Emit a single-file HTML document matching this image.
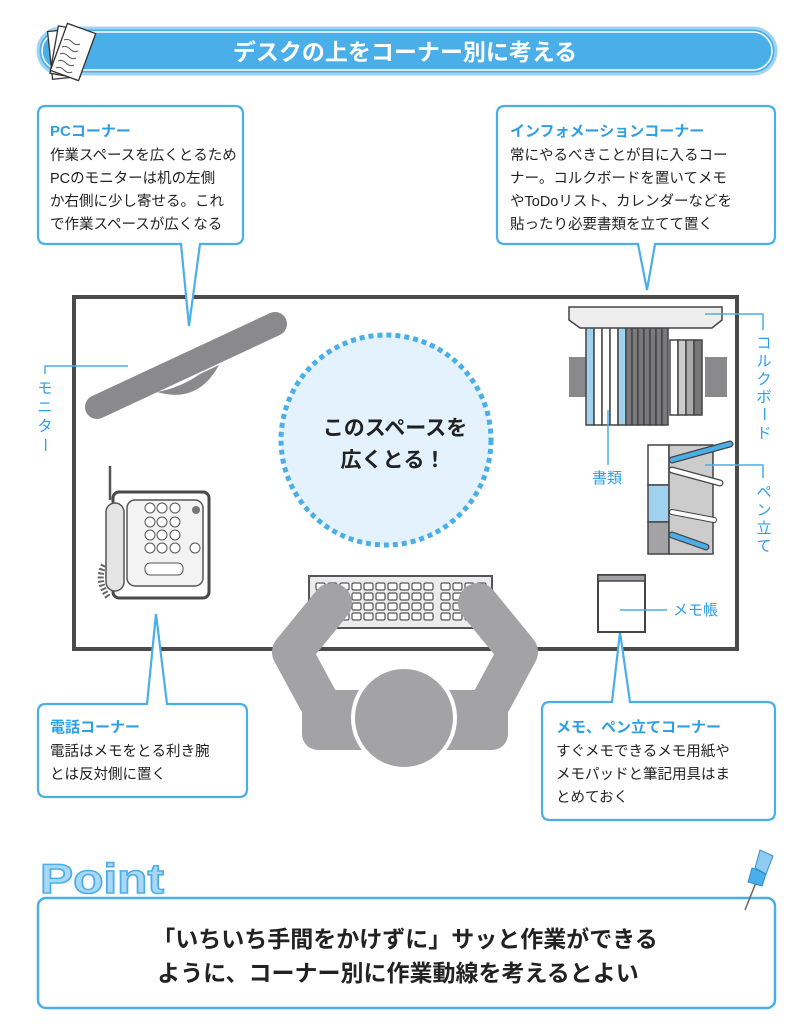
<!DOCTYPE html>
<html><head><meta charset="utf-8"><style>
html,body{margin:0;padding:0;background:#fff;}
svg{display:block;}
text{font-family:"Liberation Sans","Noto Sans CJK JP",sans-serif;}
</style></head><body>
<svg width="804" height="1024" viewBox="0 0 804 1024" xmlns="http://www.w3.org/2000/svg">
<!-- title -->
<rect x="38" y="28" width="738" height="46" rx="23" fill="#4aaee8" stroke="#9fd3f4" stroke-width="3"/>
<rect x="42" y="32" width="730" height="38" rx="19" fill="none" stroke="#ffffff" stroke-width="1.5"/>
<text x="405" y="60" font-size="23" font-weight="bold" fill="#fff" text-anchor="middle">デスクの上をコーナー別に考える</text>
<g stroke="#333" stroke-width="1.3" fill="#fff">
<rect x="50" y="30" width="28" height="48" transform="rotate(-6 64 54)"/>
<rect x="54" y="28" width="28" height="48" transform="rotate(10 68 52)"/>
<rect x="58" y="27" width="30" height="50" transform="rotate(20 73 52)"/>
</g>
<g stroke="#555" stroke-width="1" fill="none">
<path d="M64 40 q4 -2 8 2 t8 2"/><path d="M62 47 q4 -2 8 2 t8 2"/><path d="M60 54 q4 -2 8 2 t8 2"/><path d="M58 61 q4 -2 8 2 t8 2"/><path d="M56 68 q4 -2 8 2 t8 2"/>
</g>

<!-- desk -->
<rect x="74" y="297" width="663" height="352" fill="#fff" stroke="#4a4a4a" stroke-width="4"/>

<!-- PC box -->
<path d="M46 106 H235 q8 0 8 8 V236 q0 8 -8 8 H200 L189 326 L181 244 H46 q-8 0 -8 -8 V114 q0 -8 8 -8 Z" fill="#fff" stroke="#4aaee8" stroke-width="2.2"/>
<text x="50" y="136" font-size="15" font-weight="bold" fill="#2e9fe3">PCコーナー</text>
<g font-size="14.5" fill="#222"><text x="50" y="160">作業スペースを広くとるため</text><text x="50" y="183">PCのモニターは机の左側</text><text x="50" y="206">か右側に少し寄せる。これ</text><text x="50" y="229">で作業スペースが広くなる</text></g>

<!-- Info box -->
<path d="M505 106 H767 q8 0 8 8 V236 q0 8 -8 8 H655 L647 290 L638 244 H505 q-8 0 -8 -8 V114 q0 -8 8 -8 Z" fill="#fff" stroke="#4aaee8" stroke-width="2.2"/>
<text x="510" y="136" font-size="15" font-weight="bold" fill="#2e9fe3">インフォメーションコーナー</text>
<g font-size="14.5" fill="#222"><text x="510" y="160">常にやるべきことが目に入るコー</text><text x="510" y="183">ナー。コルクボードを置いてメモ</text><text x="510" y="206">やToDoリスト、カレンダーなどを</text><text x="510" y="229">貼ったり必要書類を立てて置く</text></g>

<!-- circle -->
<circle cx="386" cy="440" r="105" fill="#e3f2fc" stroke="#4aaee8" stroke-width="5" stroke-dasharray="5 4"/>
<text x="395" y="435" font-size="21" font-weight="bold" fill="#222" text-anchor="middle">このスペースを</text>
<text x="393" y="467" font-size="21" font-weight="bold" fill="#222" text-anchor="middle">広くとる！</text>

<!-- monitor -->
<line x1="97" y1="407" x2="275" y2="324" stroke="#8a8a8c" stroke-width="24" stroke-linecap="round"/>
<path d="M157 392 Q198 404 219 365 L200 374 Q180 388 157 392 Z" fill="#8a8a8c"/>
<path d="M128 366 H45 V374" fill="none" stroke="#4aaee8" stroke-width="1.5"/>
<g font-size="15" fill="#2e9fe3" text-anchor="middle"><text x="45" y="393">モ</text><text x="45" y="412">ニ</text><text x="45" y="431">タ</text><text x="45" y="450" transform="rotate(90 45 445)">ー</text></g>

<!-- phone -->
<line x1="110" y1="466" x2="110" y2="500" stroke="#555" stroke-width="2.5"/>
<rect x="113" y="492" width="96" height="106" rx="6" fill="#fff" stroke="#4a4a4a" stroke-width="3"/>
<rect x="127" y="500" width="76" height="86" rx="8" fill="#f3f3f3" stroke="#555" stroke-width="1.5"/>
<rect x="106" y="503" width="18" height="88" rx="9" fill="#e4e4e4" stroke="#555" stroke-width="1.5"/>
<g fill="#fff" stroke="#555" stroke-width="1"><circle cx="150" cy="508" r="5"/><circle cx="162" cy="508" r="5"/><circle cx="175" cy="508" r="5"/><circle cx="150" cy="522" r="5"/><circle cx="162" cy="522" r="5"/><circle cx="175" cy="522" r="5"/><circle cx="150" cy="535" r="5"/><circle cx="162" cy="535" r="5"/><circle cx="175" cy="535" r="5"/><circle cx="150" cy="548" r="5"/><circle cx="162" cy="548" r="5"/><circle cx="175" cy="548" r="5"/><circle cx="195" cy="548" r="5"/><rect x="145" y="563" width="38" height="12" rx="5"/></g>
<circle cx="196" cy="510" r="4" fill="#777"/>
<path d="M104 565 q-8 15 4 32" fill="none" stroke="#666" stroke-width="6" stroke-dasharray="2 2"/>

<!-- keyboard & person -->
<rect x="309" y="576" width="183" height="52" fill="#ececec" stroke="#555" stroke-width="2"/>
<g fill="#fff" stroke="#555" stroke-width="1.2">
<g id="r"><rect x="316" y="583" width="9" height="7" rx="1.5"/><rect x="328" y="583" width="9" height="7" rx="1.5"/><rect x="340" y="583" width="9" height="7" rx="1.5"/><rect x="352" y="583" width="9" height="7" rx="1.5"/><rect x="364" y="583" width="9" height="7" rx="1.5"/><rect x="376" y="583" width="9" height="7" rx="1.5"/><rect x="388" y="583" width="9" height="7" rx="1.5"/><rect x="400" y="583" width="9" height="7" rx="1.5"/><rect x="412" y="583" width="9" height="7" rx="1.5"/><rect x="424" y="583" width="9" height="7" rx="1.5"/><rect x="441" y="583" width="9" height="7" rx="1.5"/><rect x="453" y="583" width="9" height="7" rx="1.5"/><rect x="465" y="583" width="9" height="7" rx="1.5"/><rect x="477" y="583" width="9" height="7" rx="1.5"/></g>
<use href="#r" y="10"/><use href="#r" y="20"/><use href="#r" y="30"/>
</g>
<line x1="74" y1="649" x2="737" y2="649" stroke="#4a4a4a" stroke-width="4"/>
<g stroke="#a3a3a5" stroke-width="40" stroke-linecap="round" stroke-linejoin="round" fill="none">
<polyline points="332,603 292,652 318,700"/>
<polyline points="478,603 518,652 492,700"/>
</g>
<rect x="302" y="690" width="206" height="60" rx="16" fill="#a3a3a5"/>
<circle cx="404" cy="718" r="51" fill="#a3a3a5" stroke="#fff" stroke-width="4"/>

<!-- phone box -->
<path d="M46 704 H147 L156 614 L167 704 H239 q8 0 8 8 V789 q0 8 -8 8 H46 q-8 0 -8 -8 V712 q0 -8 8 -8 Z" fill="#fff" stroke="#4aaee8" stroke-width="2.2"/>
<text x="50" y="732" font-size="15" font-weight="bold" fill="#2e9fe3">電話コーナー</text>
<g font-size="14.5" fill="#222"><text x="50" y="756">電話はメモをとる利き腕</text><text x="50" y="779">とは反対側に置く</text></g>

<!-- memo box -->
<path d="M550 702 H612 L620 632 L630 702 H767 q8 0 8 8 V812 q0 8 -8 8 H550 q-8 0 -8 -8 V710 q0 -8 8 -8 Z" fill="#fff" stroke="#4aaee8" stroke-width="2.2"/>
<text x="556" y="732" font-size="15" font-weight="bold" fill="#2e9fe3">メモ、ペン立てコーナー</text>
<g font-size="14.5" fill="#222"><text x="556" y="756">すぐメモできるメモ用紙や</text><text x="556" y="779">メモパッドと筆記用具はま</text><text x="556" y="802">とめておく</text></g>

<!-- cork board & docs -->
<rect x="569" y="357" width="22" height="40" fill="#8a8a8c"/>
<rect x="705" y="357" width="22" height="40" fill="#8a8a8c"/>
<g stroke="#444" stroke-width="1.5">
<rect x="586" y="327" width="8" height="98" fill="#a0d2f0"/><rect x="594" y="327" width="8" height="98" fill="#fff"/><rect x="602" y="327" width="8" height="98" fill="#fff"/><rect x="610" y="327" width="8" height="98" fill="#fff"/><rect x="618" y="327" width="8" height="98" fill="#a0d2f0"/>
<rect x="626" y="327" width="6" height="98" fill="#7a7a7c"/><rect x="632" y="327" width="6" height="98" fill="#7a7a7c"/><rect x="638" y="327" width="6" height="98" fill="#7a7a7c"/><rect x="644" y="327" width="6" height="98" fill="#7a7a7c"/><rect x="650" y="327" width="6" height="98" fill="#7a7a7c"/><rect x="656" y="327" width="6" height="98" fill="#7a7a7c"/><rect x="662" y="327" width="6" height="98" fill="#7a7a7c"/>
<rect x="670" y="340" width="8" height="75" fill="#fff"/><rect x="678" y="340" width="8" height="75" fill="#ccc"/><rect x="686" y="340" width="8" height="75" fill="#aaa"/><rect x="694" y="340" width="8" height="75" fill="#777"/>
</g>
<path d="M569 307 H722 V320 L712 328 H580 L569 320 Z" fill="#eee" stroke="#444" stroke-width="1.5"/>
<path d="M705 314 H763 V330" fill="none" stroke="#4aaee8" stroke-width="1.5"/>
<g font-size="15" fill="#2e9fe3" text-anchor="middle"><text x="764" y="348">コ</text><text x="764" y="366">ル</text><text x="764" y="384">ク</text><text x="764" y="402">ボ</text><text x="764" y="419" transform="rotate(90 764 414)">ー</text><text x="764" y="438">ド</text></g>
<line x1="608" y1="410" x2="608" y2="465" stroke="#4aaee8" stroke-width="1.5"/>
<text x="607" y="483" font-size="15" fill="#2e9fe3" text-anchor="middle">書類</text>

<!-- pen stand -->
<g stroke="#444" stroke-width="1.5">
<rect x="648" y="445" width="21" height="40" fill="#fff"/><rect x="648" y="485" width="21" height="37" fill="#a0d2f0"/><rect x="648" y="522" width="21" height="32" fill="#a3a3a5"/>
<rect x="669" y="445" width="44" height="109" fill="#ccc"/>
</g>
<g stroke-linecap="round">
<line x1="672" y1="460" x2="730" y2="444" stroke="#444" stroke-width="7"/><line x1="672" y1="460" x2="730" y2="444" stroke="#4aaee8" stroke-width="4.5"/>
<line x1="672" y1="470" x2="720" y2="483" stroke="#444" stroke-width="7"/><line x1="672" y1="470" x2="720" y2="483" stroke="#fff" stroke-width="4.5"/>
<line x1="672" y1="512" x2="714" y2="520" stroke="#444" stroke-width="6"/><line x1="672" y1="512" x2="714" y2="520" stroke="#fff" stroke-width="4"/>
<line x1="672" y1="535" x2="706" y2="547" stroke="#444" stroke-width="7"/><line x1="672" y1="535" x2="706" y2="547" stroke="#4aaee8" stroke-width="4.5"/>
</g>
<path d="M705 465 H763 V478" fill="none" stroke="#4aaee8" stroke-width="1.5"/>
<g font-size="15" fill="#2e9fe3" text-anchor="middle"><text x="764" y="497">ペ</text><text x="764" y="515">ン</text><text x="764" y="533">立</text><text x="764" y="551">て</text></g>

<!-- memo pad -->
<rect x="598" y="575" width="47" height="57" fill="#fff" stroke="#444" stroke-width="2"/>
<rect x="598" y="575" width="47" height="6" fill="#a3a3a5" stroke="#444" stroke-width="1.5"/>
<line x1="620" y1="610" x2="667" y2="610" stroke="#4aaee8" stroke-width="1.5"/>
<text x="673" y="615" font-size="15" fill="#2e9fe3">メモ帳</text>

<!-- Point -->
<text x="40" y="893" font-size="42" font-weight="bold" font-family="Liberation Serif,serif" fill="#a8d8f6" stroke="#4aaee8" stroke-width="1.5" textLength="124" lengthAdjust="spacingAndGlyphs">Point</text>
<rect x="38" y="898" width="737" height="110" rx="8" fill="#fff" stroke="#4aaee8" stroke-width="2.5"/>
<line x1="757" y1="880" x2="745" y2="910" stroke="#666" stroke-width="1.5"/>
<path d="M752 868 L766 874 L762 886 L748 882 Z" fill="#4aaee8" stroke="#2e8fcf" stroke-width="1"/>
<path d="M760 850 L773 856 L766 874 L755 868 Z" fill="#8fcbf0" stroke="#2e8fcf" stroke-width="1"/>
<text x="405" y="947" font-size="23" font-weight="bold" fill="#222" text-anchor="middle">「いちいち手間をかけずに」サッと作業ができる</text>
<text x="398" y="981" font-size="23" font-weight="bold" fill="#222" text-anchor="middle">ように、コーナー別に作業動線を考えるとよい</text>
</svg>
</body></html>
